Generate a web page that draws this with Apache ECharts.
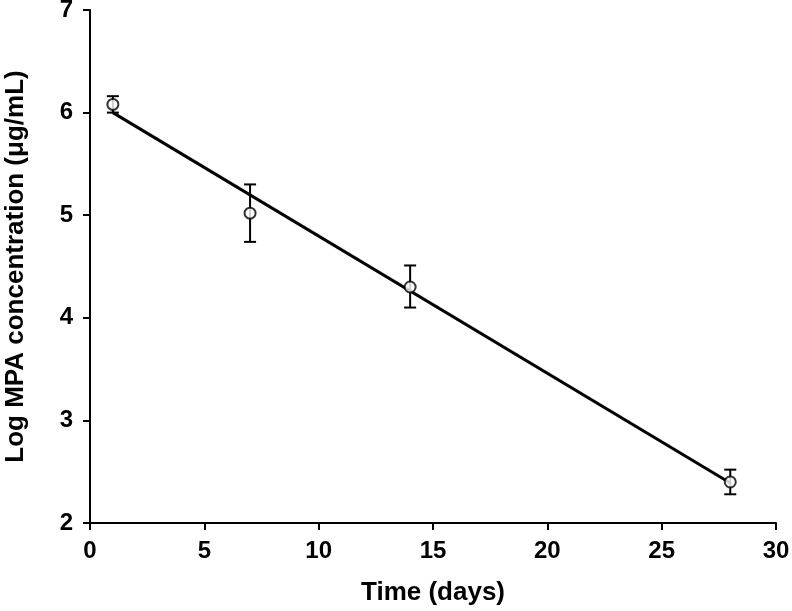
<!DOCTYPE html>
<html><head><meta charset="utf-8">
<script src="https://cdn.jsdelivr.net/npm/echarts@6/dist/echarts.min.js"></script>
<style>html,body{margin:0;padding:0;background:#fff}#c{width:792px;height:611px}</style>
</head><body><div id="c"></div>
<script>
var days = [1, 7, 14, 28];
var logConc = [6.08, 5.02, 4.30, 2.40];
var errLow = [6.00, 4.74, 4.10, 2.28];
var errHigh = [6.16, 5.30, 4.51, 2.52];
var fitX = [1, 28];
var fitY = [6.00, 2.39];
var xTicks = [0, 5, 10, 15, 20, 25, 30];
var yTicks = [2, 3, 4, 5, 6, 7];

var chart = echarts.init(document.getElementById('c'));
var font = 'Liberation Sans, Arial, sans-serif';
chart.setOption({
  animation: false,
  grid: {left: 90, right: 16, top: 10, bottom: 88, containLabel: false, outerBoundsMode: 'none'},
  xAxis: {
    type: 'value', min: xTicks[0], max: xTicks[xTicks.length-1], interval: 5,
    name: 'Time (days)', nameLocation: 'middle', nameGap: 57,
    nameTextStyle: {fontFamily: font, fontWeight: 'bold', fontSize: 26, color: '#000'},
    axisLine: {show: true, onZero: false, lineStyle: {color: '#000', width: 2}},
    axisTick: {show: true, length: 7, lineStyle: {color: '#000', width: 2}},
    axisLabel: {fontFamily: font, fontWeight: 'bold', fontSize: 24, color: '#000', margin: 16},
    splitLine: {show: false}
  },
  yAxis: {
    type: 'value', min: yTicks[0], max: yTicks[yTicks.length-1], interval: 1,
    name: 'Log MPA concentration (\u03bcg/mL)', nameLocation: 'middle', nameGap: 61, nameRotate: 90,
    nameTextStyle: {fontFamily: font, fontWeight: 'bold', fontSize: 26, color: '#000'},
    axisLine: {show: true, onZero: false, lineStyle: {color: '#000', width: 2}},
    axisTick: {show: true, length: 7, lineStyle: {color: '#000', width: 2}},
    axisLabel: {fontFamily: font, fontWeight: 'bold', fontSize: 24, color: '#000', margin: 17},
    splitLine: {show: false}
  },
  series: [
    {
      type: 'line', data: fitX.map(function(x, i){return [x, fitY[i]];}),
      symbol: 'none', lineStyle: {color: '#000', width: 3}, z: 2
    },
    {
      type: 'custom', z: 3,
      data: days.map(function(d, i){return [d, errLow[i], errHigh[i]];}),
      renderItem: function(params, api){
        var lo = api.coord([api.value(0), api.value(1)]);
        var hi = api.coord([api.value(0), api.value(2)]);
        var w = 6;
        var st = {stroke: '#000', lineWidth: 2, fill: null};
        return {type: 'group', children: [
          {type: 'line', shape: {x1: lo[0], y1: lo[1], x2: hi[0], y2: hi[1]}, style: st},
          {type: 'line', shape: {x1: lo[0]-w, y1: lo[1], x2: lo[0]+w, y2: lo[1]}, style: st},
          {type: 'line', shape: {x1: hi[0]-w, y1: hi[1], x2: hi[0]+w, y2: hi[1]}, style: st}
        ]};
      }
    },
    {
      type: 'scatter', z: 4,
      data: days.map(function(d, i){return [d, logConc[i]];}),
      symbol: 'circle', symbolSize: 11,
      itemStyle: {color: '#fff', borderColor: '#000', borderWidth: 2}
    }
  ]
});
</script></body></html>
